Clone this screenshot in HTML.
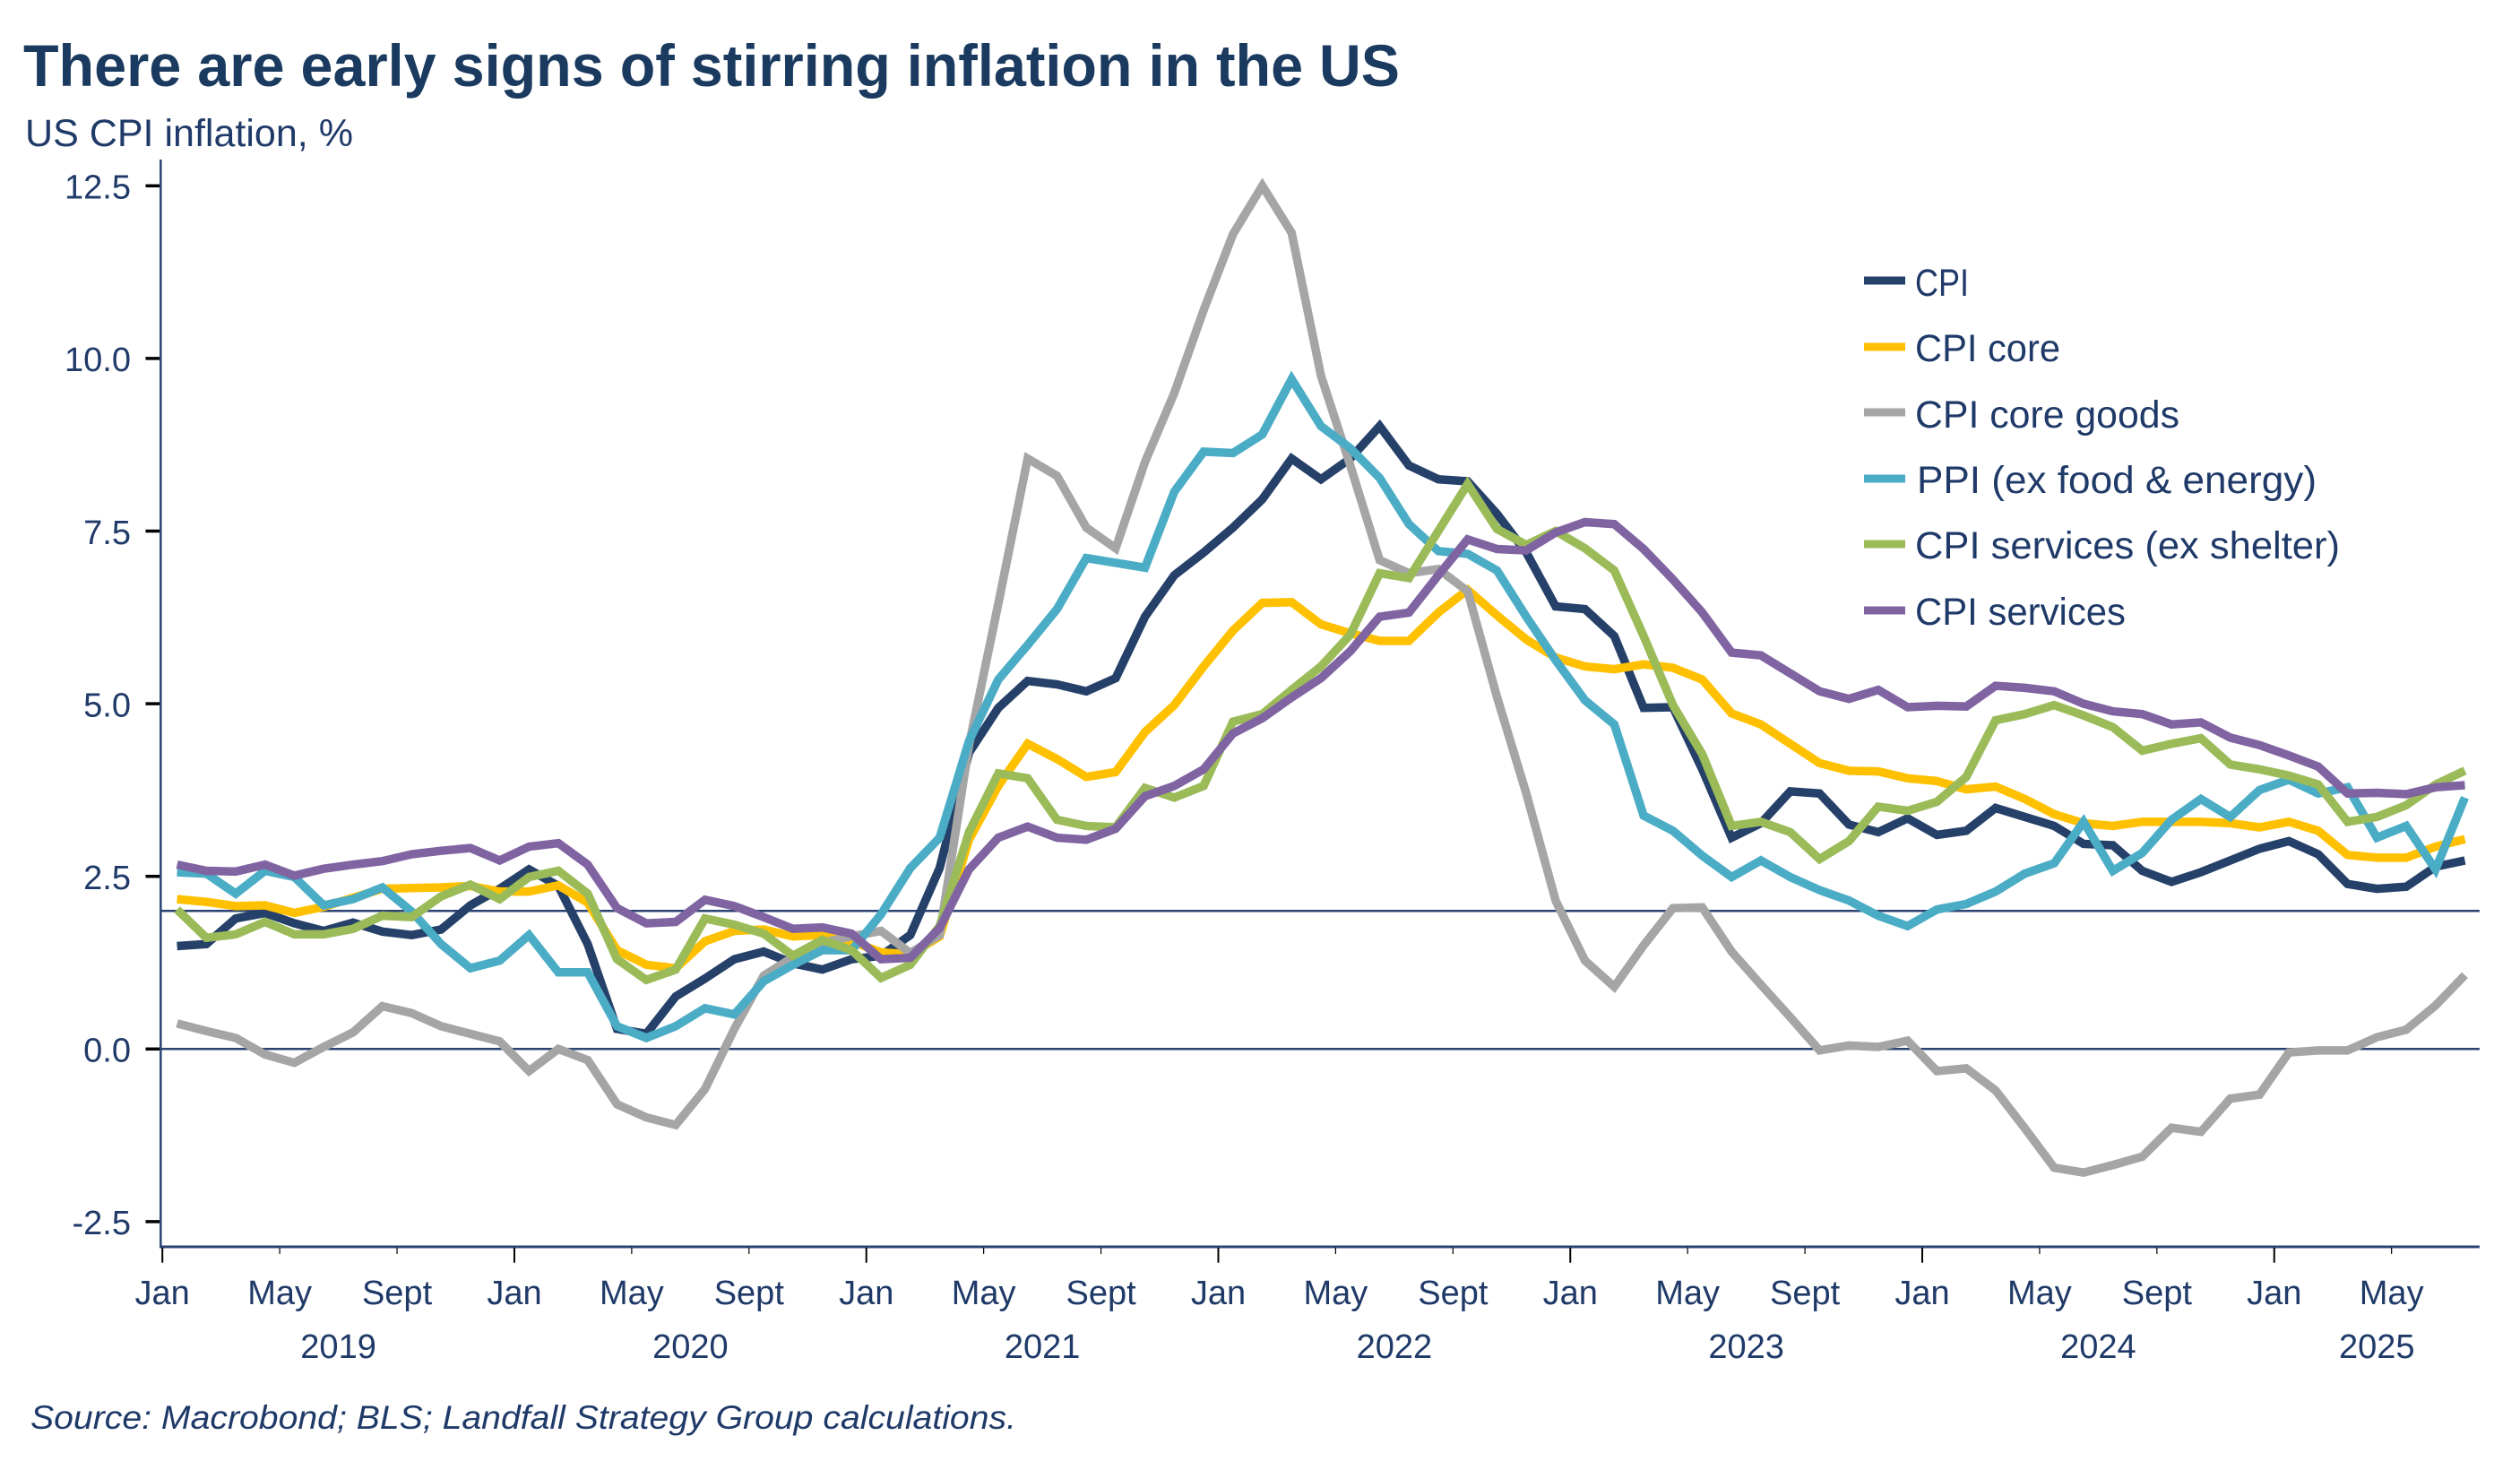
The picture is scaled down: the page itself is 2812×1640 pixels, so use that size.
<!DOCTYPE html>
<html lang="en">
<head>
<meta charset="utf-8">
<title>There are early signs of stirring inflation in the US</title>
<style>
  html, body { margin: 0; padding: 0; background: #ffffff; }
  svg { display: block; font-family: "Liberation Sans", sans-serif; }
  .label { fill: #1f3a68; }
</style>
</head>
<body>
<svg id="chart" xmlns="http://www.w3.org/2000/svg" width="2812" height="1640" viewBox="0 0 2812 1640">
  <rect x="0" y="0" width="2812" height="1640" fill="#ffffff"/>
  <text x="26" y="96" font-size="66" font-weight="700" fill="#1a3a5f" textLength="1536" lengthAdjust="spacingAndGlyphs">There are early signs of stirring inflation in the US</text>
  <text class="label" x="28" y="163" font-size="43" textLength="366" lengthAdjust="spacingAndGlyphs">US CPI inflation, %</text>

  <g id="gridlayer"></g>
  <g id="serieslayer"></g>
  <g id="axislayer"></g>

  <g>
    <g>
      <rect x="2080" y="308.5" width="46" height="9" fill="#254069"/>
      <text class="label" x="2137" y="330" font-size="43" textLength="60" lengthAdjust="spacingAndGlyphs">CPI</text>
    </g>
    <g>
      <rect x="2080" y="382.5" width="46" height="9" fill="#FFC000"/>
      <text class="label" x="2137" y="403" font-size="43" textLength="162" lengthAdjust="spacingAndGlyphs">CPI core</text>
    </g>
    <g>
      <rect x="2080" y="455.5" width="46" height="9" fill="#A5A5A5"/>
      <text class="label" x="2137" y="477" font-size="43" textLength="295" lengthAdjust="spacingAndGlyphs">CPI core goods</text>
    </g>
    <g>
      <rect x="2080" y="529.5" width="46" height="9" fill="#4BACC6"/>
      <text class="label" x="2139" y="550" font-size="43" textLength="446" lengthAdjust="spacingAndGlyphs">PPI (ex food &amp; energy)</text>
    </g>
    <g>
      <rect x="2080" y="602.5" width="46" height="9" fill="#9BBB59"/>
      <text class="label" x="2137" y="623" font-size="43" textLength="474" lengthAdjust="spacingAndGlyphs">CPI services (ex shelter)</text>
    </g>
    <g>
      <rect x="2080" y="676.5" width="46" height="9" fill="#8064A2"/>
      <text class="label" x="2137" y="697" font-size="43" textLength="235" lengthAdjust="spacingAndGlyphs">CPI services</text>
    </g>
  </g>

  <text class="label" x="34" y="1594" font-size="37" font-style="italic" textLength="1100" lengthAdjust="spacingAndGlyphs">Source: Macrobond; BLS; Landfall Strategy Group calculations.</text>
</svg>

<script>
const yTickValues = [12.5, 10, 7.5, 5, 2.5, 0, -2.5];
const yTickLabels = ["12.5", "10.0", "7.5", "5.0", "2.5", "0.0", "-2.5"];
const referenceValues = [2, 0];
const yearLabels = ["2019", "2020", "2021", "2022", "2023", "2024", "2025"];
const monthLabels = ["Jan", "May", "Sept"];

const cpi = [
  1.49,1.52,1.89,1.97,1.82,1.71,1.83,1.70,1.65,1.73,2.08,2.32,
  2.60,2.36,1.52,0.29,0.22,0.76,1.02,1.30,1.41,1.24,1.15,1.30,
  1.35,1.65,2.62,4.29,4.94,5.33,5.28,5.18,5.37,6.26,6.86,7.19,
  7.55,7.96,8.55,8.25,8.55,9.02,8.45,8.25,8.22,7.75,7.19,6.41,
  6.37,5.98,4.94,4.95,4.05,3.06,3.27,3.73,3.70,3.25,3.14,3.34,
  3.10,3.16,3.49,3.36,3.23,2.97,2.95,2.58,2.42,2.56,2.73,2.90,
  3.01,2.82,2.39,2.32,2.35,2.64,2.73
];
const cpiCore = [
  2.17,2.13,2.07,2.08,1.97,2.06,2.19,2.32,2.33,2.34,2.36,2.28,
  2.28,2.37,2.12,1.43,1.22,1.17,1.56,1.71,1.73,1.63,1.65,1.56,
  1.40,1.37,1.63,3.03,3.81,4.42,4.20,3.94,4.01,4.59,4.98,5.54,
  6.06,6.46,6.47,6.15,6.02,5.91,5.91,6.32,6.65,6.28,5.93,5.67,
  5.54,5.50,5.57,5.52,5.35,4.86,4.70,4.42,4.14,4.03,4.02,3.92,
  3.88,3.76,3.80,3.62,3.40,3.27,3.23,3.29,3.29,3.29,3.27,3.21,
  3.29,3.16,2.81,2.77,2.77,2.93,3.04
];
const cpiCoreGoods = [
  0.37,0.26,0.16,-0.08,-0.20,0.03,0.24,0.62,0.52,0.33,0.22,0.11,
  -0.32,0.00,-0.16,-0.80,-0.99,-1.10,-0.58,0.29,1.06,1.33,1.54,1.63,
  1.71,1.39,1.65,4.40,6.45,8.55,8.30,7.55,7.25,8.50,9.50,10.70,
  11.80,12.50,11.82,9.75,8.45,7.08,6.89,6.95,6.63,5.10,3.70,2.15,
  1.28,0.90,1.50,2.04,2.05,1.41,0.93,0.46,-0.02,0.05,0.03,0.12,
  -0.32,-0.28,-0.60,-1.15,-1.72,-1.79,-1.68,-1.56,-1.14,-1.20,-0.72,-0.66,
  -0.05,-0.02,-0.02,0.17,0.28,0.63,1.07
];
const ppiExFoodEnergy = [
  2.56,2.54,2.25,2.58,2.49,2.08,2.17,2.34,1.99,1.52,1.17,1.28,
  1.65,1.11,1.11,0.33,0.16,0.33,0.59,0.50,0.98,1.22,1.43,1.43,
  1.95,2.62,3.06,4.46,5.35,5.85,6.37,7.11,7.04,6.97,8.07,8.65,
  8.63,8.90,9.70,9.02,8.70,8.27,7.60,7.21,7.17,6.93,6.26,5.63,
  5.05,4.70,3.38,3.16,2.80,2.49,2.73,2.49,2.30,2.15,1.93,1.78,
  2.02,2.10,2.28,2.54,2.69,3.29,2.58,2.84,3.32,3.62,3.36,3.75,
  3.90,3.70,3.79,3.06,3.23,2.60,3.64
];
const cpiServicesExShelter = [
  2.02,1.61,1.66,1.84,1.66,1.66,1.74,1.93,1.91,2.21,2.38,2.17,
  2.49,2.58,2.25,1.30,1.00,1.15,1.89,1.80,1.67,1.35,1.58,1.43,
  1.03,1.22,1.78,3.14,3.99,3.92,3.32,3.23,3.21,3.78,3.64,3.81,
  4.74,4.85,5.20,5.54,6.00,6.89,6.82,7.50,8.18,7.53,7.30,7.50,
  7.25,6.93,5.98,4.98,4.27,3.23,3.29,3.14,2.75,3.01,3.51,3.45,
  3.58,3.94,4.76,4.85,4.98,4.83,4.66,4.32,4.42,4.50,4.12,4.05,
  3.96,3.83,3.29,3.36,3.53,3.83,4.03
];
const cpiServices = [
  2.67,2.58,2.57,2.67,2.51,2.61,2.67,2.72,2.82,2.87,2.91,2.73,
  2.93,2.98,2.67,2.04,1.82,1.84,2.16,2.07,1.91,1.74,1.76,1.67,
  1.30,1.32,1.75,2.60,3.06,3.22,3.06,3.03,3.19,3.66,3.81,4.05,
  4.57,4.79,5.09,5.37,5.76,6.26,6.32,6.86,7.38,7.24,7.22,7.48,
  7.63,7.60,7.24,6.80,6.32,5.74,5.70,5.44,5.18,5.07,5.20,4.95,
  4.97,4.96,5.26,5.23,5.18,5.00,4.89,4.85,4.70,4.73,4.51,4.40,
  4.25,4.09,3.70,3.71,3.69,3.79,3.82
];

const NS = "http://www.w3.org/2000/svg";
const INK = "#1f3a68";
const AXIS = "#2a4372";
const plotLeft = 181.2;
const monthWidth = 32.73;
const zeroY = 1170.3;
const unitY = 77.04;
const axisY = 1391;
const monthCount = cpi.length;
const plotRight = plotLeft + monthWidth * monthCount;

function xEdge(i) { return plotLeft + monthWidth * i; }
function xPoint(i) { return xEdge(i) + monthWidth / 2; }
function yScale(v) { return zeroY - v * unitY; }

function make(tag, attrs, parent) {
  const el = document.createElementNS(NS, tag);
  for (const k in attrs) el.setAttribute(k, attrs[k]);
  parent.appendChild(el);
  return el;
}

const gridLayer = document.getElementById("gridlayer");
const seriesLayer = document.getElementById("serieslayer");
const axisLayer = document.getElementById("axislayer");

referenceValues.forEach(function (v) {
  const line = make("line", { x1: 179, x2: plotRight, y1: yScale(v), y2: yScale(v), stroke: AXIS, "stroke-width": 2.5 }, gridLayer);
  
  
});

function drawSeries(values, color, name) {
  const d = values.map(function (v, i) {
    return (i ? "L" : "M") + xPoint(i).toFixed(2) + " " + yScale(v).toFixed(2);
  }).join(" ");
  const path = make("path", { d: d, fill: "none", stroke: color, "stroke-width": 9.5, "stroke-linejoin": "miter", "stroke-miterlimit": 3, "stroke-linecap": "butt" }, seriesLayer);
  
  
}
drawSeries(cpi, "#254069", "series-cpi");
drawSeries(cpiCore, "#FFC000", "series-cpi-core");
drawSeries(cpiCoreGoods, "#A5A5A5", "series-cpi-core-goods");
drawSeries(ppiExFoodEnergy, "#4BACC6", "series-ppi");
drawSeries(cpiServicesExShelter, "#9BBB59", "series-cpi-services-ex-shelter");
drawSeries(cpiServices, "#8064A2", "series-cpi-services");

const yAxisLine = make("line", { x1: 179.3, x2: 179.3, y1: 178, y2: axisY, stroke: AXIS, "stroke-width": 2.5 }, axisLayer);



const xAxisLine = make("line", { x1: 178, x2: plotRight, y1: axisY, y2: axisY, stroke: AXIS, "stroke-width": 3 }, axisLayer);



yTickValues.forEach(function (v, i) {
  const tick = make("line", { x1: 162.5, x2: 178, y1: yScale(v), y2: yScale(v), stroke: "#000000", "stroke-width": 3.5 }, axisLayer);
  
  
  const label = make("text", { x: 146, y: yScale(v) + 14.3, "font-size": 38, "text-anchor": "end", fill: INK }, axisLayer);
  label.textContent = yTickLabels[i];
  
  
});

for (let m = 0; m < monthCount; m += 4) {
  const isJan = m % 12 === 0;
  const tick = make("line", { x1: xEdge(m), x2: xEdge(m), y1: axisY + 1, y2: isJan ? 1408.7 : 1399, stroke: "#000000", "stroke-width": isJan ? 2 : 1.2 }, axisLayer);
  
  
  const label = make("text", { x: xEdge(m), y: 1455, "font-size": 38, "text-anchor": "middle", fill: INK }, axisLayer);
  label.textContent = monthLabels[(m % 12) / 4];
  
  
}

yearLabels.forEach(function (year, i) {
  const start = i * 12;
  const end = Math.min(start + 12, monthCount);
  const label = make("text", { x: (xEdge(start) + xEdge(end)) / 2, y: 1515, "font-size": 38, "text-anchor": "middle", fill: INK }, axisLayer);
  label.textContent = year;
  
  
});
</script>
</body>
</html>
